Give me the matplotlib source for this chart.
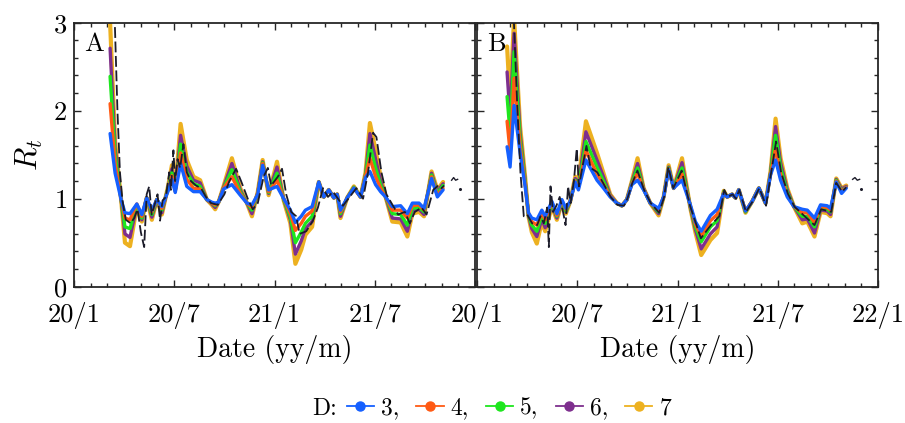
import matplotlib
matplotlib.use("Agg")
import matplotlib.pyplot as plt
from matplotlib.ticker import MultipleLocator, FixedLocator, FixedFormatter
from matplotlib.lines import Line2D

plt.rcParams['mathtext.fontset'] = 'cm'
plt.rcParams['font.family'] = ['cmr10', 'DejaVu Serif']
plt.rcParams['axes.unicode_minus'] = False
plt.rcParams['axes.formatter.use_mathtext'] = True

# x values: months since 2020/1/1
tick_months = [0, 6, 12, 18, 24]
tick_labels_A = ['20/1', '20/7', '21/1', '21/7', '']
tick_labels_B = ['20/1', '20/7', '21/1', '21/7', '22/1']
D_labels = ['3,', '4,', '5,', '6,', '7']
colors = ['#1560ff', '#ff5a14', '#1ee61e', '#7e2f8e', '#edb120']

# ---------------- Panel A ----------------
mA = [2.16, 2.46, 2.82, 3.05, 3.35, 3.76, 4.06, 4.35, 4.66, 4.96, 5.26, 5.66, 5.86, 6.06,
      6.38, 6.75, 7.15, 7.55, 7.95, 8.25, 8.45, 8.65, 8.95, 9.45, 9.95, 10.35, 10.65, 11.0,
      11.29, 11.65, 12.15, 12.55, 12.95, 13.25, 13.6, 13.85, 14.25, 14.65, 14.95, 15.25,
      15.55, 15.75, 15.95, 16.35, 16.75, 17.15, 17.45, 17.71, 18.05, 18.35, 18.65, 19.05,
      19.55, 19.95, 20.25, 20.65, 20.95, 21.4, 21.75, 22.09]
A_D3 = [1.74, 1.29, 0.99, 0.84, 0.83, 0.94, 0.82, 1.01, 0.87, 0.99, 0.91, 1.10, 1.22, 1.07,
        1.40, 1.14, 1.08, 1.08, 0.99, 0.96, 0.95, 0.96, 1.11, 1.16, 1.04, 0.95, 0.93, 1.05,
        1.38, 1.10, 1.14, 1.00, 0.87, 0.73, 0.80, 0.87, 0.91, 1.19, 1.02, 1.10,
        1.01, 1.05, 0.87, 1.01, 1.12, 1.02, 1.24, 1.31, 1.16, 1.08, 1.02, 0.91,
        0.92, 0.83, 0.95, 0.95, 0.89, 1.23, 1.02, 1.10]
A_D4 = [2.08, 1.40, 0.99, 0.78, 0.76, 0.94, 0.80, 1.01, 0.85, 0.99, 0.89, 1.12, 1.26, 1.08,
        1.52, 1.22, 1.12, 1.11, 0.99, 0.95, 0.93, 0.96, 1.12, 1.25, 1.06, 0.95, 0.90, 1.06,
        1.40, 1.08, 1.21, 1.00, 0.83, 0.64, 0.72, 0.80, 0.86, 1.19, 1.02, 1.10,
        1.01, 1.05, 0.85, 1.01, 1.12, 1.02, 1.26, 1.46, 1.25, 1.12, 1.02, 0.87,
        0.87, 0.78, 0.92, 0.93, 0.87, 1.25, 1.04, 1.12]
A_D5 = [2.39, 1.50, 0.99, 0.68, 0.66, 0.93, 0.78, 1.01, 0.82, 0.99, 0.87, 1.14, 1.30, 1.09,
        1.62, 1.30, 1.17, 1.14, 0.99, 0.95, 0.92, 0.96, 1.12, 1.33, 1.08, 0.95, 0.87, 1.06,
        1.41, 1.07, 1.29, 0.99, 0.79, 0.50, 0.62, 0.72, 0.80, 1.19, 1.02, 1.10,
        1.01, 1.05, 0.83, 1.01, 1.13, 1.02, 1.27, 1.61, 1.35, 1.16, 1.02, 0.83,
        0.82, 0.70, 0.89, 0.90, 0.85, 1.27, 1.06, 1.15]
A_D6 = [2.71, 1.58, 0.99, 0.60, 0.56, 0.92, 0.76, 1.01, 0.79, 0.99, 0.84, 1.15, 1.34, 1.10,
        1.72, 1.37, 1.21, 1.18, 0.99, 0.94, 0.90, 0.96, 1.13, 1.40, 1.10, 0.95, 0.83, 1.07,
        1.42, 1.06, 1.36, 0.99, 0.76, 0.37, 0.52, 0.66, 0.74, 1.19, 1.02, 1.10,
        1.01, 1.05, 0.80, 1.01, 1.13, 1.02, 1.28, 1.74, 1.45, 1.20, 1.02, 0.78,
        0.77, 0.63, 0.86, 0.88, 0.82, 1.29, 1.08, 1.17]
A_D7 = [3.00, 1.65, 0.99, 0.50, 0.46, 0.91, 0.74, 1.01, 0.76, 0.99, 0.82, 1.17, 1.38, 1.11,
        1.85, 1.44, 1.25, 1.21, 0.99, 0.93, 0.88, 0.96, 1.14, 1.46, 1.12, 0.95, 0.80, 1.08,
        1.44, 1.04, 1.42, 0.98, 0.72, 0.26, 0.42, 0.59, 0.68, 1.19, 1.02, 1.10,
        1.01, 1.05, 0.78, 1.01, 1.14, 1.02, 1.30, 1.86, 1.55, 1.25, 1.02, 0.74,
        0.73, 0.57, 0.83, 0.85, 0.80, 1.31, 1.10, 1.19]

mA_obs = [2.45, 2.6, 2.75, 2.9, 3.1, 3.4, 3.6, 3.8, 4.0, 4.2, 4.35, 4.5, 4.65, 4.85, 5.0, 5.15,
          5.3, 5.5, 5.7, 5.8, 5.95, 6.05, 6.2, 6.35, 6.55, 6.75, 7.0, 7.3, 7.6, 7.9, 8.2, 8.6,
          9.0, 9.3, 9.7, 10.0, 10.4, 10.7, 11.0, 11.35, 11.6, 11.8, 12.2, 12.45, 12.7, 13.0,
          13.3, 13.5, 13.9, 14.3, 14.6, 14.9, 15.2, 15.5, 15.8, 16.1, 16.5, 16.9, 17.3, 17.6,
          17.9, 18.1, 18.4, 18.7, 19.0, 19.4, 19.8, 20.1, 20.4, 20.8, 21.1, 21.5, 21.8, 22.0,
          22.15]
A_obs = [2.95, 2.0, 1.3, 0.98, 0.76, 0.72, 0.78, 0.88, 0.62, 0.45, 1.05, 1.14, 0.82, 0.95,
         1.05, 0.75, 0.98, 1.02, 1.30, 1.10, 1.55, 1.20, 1.45, 1.35, 1.62, 1.30, 1.20, 1.15,
         1.12, 1.02, 0.95, 0.93, 1.05, 1.20, 1.34, 1.20, 1.0, 0.88, 0.95, 1.25, 1.35, 1.15,
         1.25, 1.34, 1.05, 0.85, 0.80, 0.60, 0.63, 0.75, 0.90, 1.12, 1.02, 1.08, 1.0, 0.92,
         1.02, 1.12, 1.0, 1.30, 1.75, 1.70, 1.30, 1.05, 0.95, 0.82, 0.85, 0.72, 0.85, 0.90,
         0.82, 1.10, 1.15, 1.12, 1.15]
mA_tail = [22.6, 22.72, 22.84, 22.96]
A_tail = [1.21, 1.24, 1.21, 1.22]
mA_dot = [23.08]
A_dot = [1.11]

# ---------------- Panel B ----------------
mB = [1.80, 1.98, 2.22, 2.58, 2.88, 3.08, 3.28, 3.58, 3.88, 4.08, 4.48, 4.78, 5.08, 5.32,
      5.58, 5.88, 6.07, 6.52, 7.18, 7.57, 7.97, 8.37, 8.67, 8.97, 9.27, 9.61, 9.97, 10.37,
      10.87, 11.17, 11.47, 11.77, 12.27, 12.77, 13.07, 13.42, 13.97, 14.37, 14.77, 14.97,
      15.27, 15.47, 15.67, 16.07, 16.47, 16.87, 17.27, 17.57, 17.87, 18.17, 18.57, 18.97,
      19.47, 19.77, 20.2, 20.56, 20.96, 21.16, 21.5, 21.82, 22.1]
B_D3 = [1.59, 1.36, 2.06, 1.52, 1.14, 0.84, 0.78, 0.76, 0.87, 0.80, 0.97, 0.83, 0.99, 0.89,
        0.97, 1.19, 1.10, 1.44, 1.21, 1.12, 1.02, 0.95, 0.92, 0.99, 1.16, 1.21, 1.10, 0.95,
        0.89, 1.02, 1.33, 1.12, 1.21, 0.93, 0.74, 0.63, 0.81, 0.88, 1.06, 1.02,
        1.05, 1.01, 1.10, 0.86, 0.97, 1.12, 0.95, 1.27, 1.44, 1.21, 1.02, 0.91,
        0.88, 0.87, 0.78, 0.93, 0.92, 0.89, 1.19, 1.06, 1.12]
B_D4 = [1.88, 1.53, 2.37, 1.60, 1.17, 0.83, 0.74, 0.70, 0.84, 0.76, 0.96, 0.81, 0.98, 0.88,
        0.97, 1.20, 1.12, 1.55, 1.28, 1.16, 1.03, 0.95, 0.92, 0.99, 1.17, 1.29, 1.11, 0.95,
        0.87, 1.02, 1.34, 1.12, 1.28, 0.92, 0.71, 0.57, 0.75, 0.82, 1.07, 1.02,
        1.05, 1.01, 1.10, 0.86, 0.97, 1.12, 0.95, 1.28, 1.57, 1.28, 1.04, 0.91,
        0.84, 0.84, 0.73, 0.91, 0.90, 0.87, 1.20, 1.08, 1.13]
B_D5 = [2.16, 1.74, 2.67, 1.68, 1.20, 0.82, 0.70, 0.63, 0.81, 0.72, 0.94, 0.80, 0.97, 0.86,
        0.97, 1.21, 1.14, 1.65, 1.36, 1.20, 1.03, 0.95, 0.92, 0.99, 1.18, 1.35, 1.11, 0.95,
        0.85, 1.02, 1.35, 1.12, 1.35, 0.91, 0.68, 0.51, 0.68, 0.75, 1.08, 1.02,
        1.05, 1.01, 1.10, 0.85, 0.97, 1.12, 0.95, 1.29, 1.72, 1.35, 1.07, 0.91,
        0.80, 0.80, 0.68, 0.89, 0.88, 0.85, 1.21, 1.09, 1.13]
B_D6 = [2.44, 1.93, 2.88, 1.75, 1.22, 0.81, 0.66, 0.57, 0.77, 0.67, 0.93, 0.78, 0.96, 0.85,
        0.97, 1.23, 1.16, 1.76, 1.44, 1.25, 1.04, 0.95, 0.92, 0.99, 1.19, 1.40, 1.12, 0.95,
        0.83, 1.02, 1.36, 1.12, 1.41, 0.90, 0.65, 0.43, 0.60, 0.68, 1.08, 1.02,
        1.05, 1.01, 1.10, 0.85, 0.97, 1.12, 0.95, 1.30, 1.82, 1.41, 1.10, 0.91,
        0.76, 0.77, 0.61, 0.87, 0.86, 0.82, 1.22, 1.11, 1.14]
B_D7 = [2.73, 2.12, 3.05, 1.82, 1.25, 0.80, 0.62, 0.49, 0.74, 0.63, 0.91, 0.76, 0.95, 0.83,
        0.97, 1.25, 1.19, 1.88, 1.52, 1.29, 1.05, 0.95, 0.92, 0.99, 1.20, 1.46, 1.12, 0.95,
        0.81, 1.02, 1.38, 1.12, 1.46, 0.89, 0.62, 0.36, 0.53, 0.61, 1.09, 1.02,
        1.05, 1.01, 1.10, 0.84, 0.97, 1.12, 0.95, 1.31, 1.91, 1.46, 1.12, 0.91,
        0.72, 0.74, 0.57, 0.85, 0.835, 0.80, 1.23, 1.12, 1.15]

mB_obs = [2.2, 2.4, 2.6, 2.8, 3.0, 3.3, 3.6, 3.8, 4.0, 4.2, 4.3, 4.4, 4.55, 4.75, 4.95, 5.15,
          5.3, 5.45, 5.6, 5.8, 5.97, 6.1, 6.3, 6.55, 6.8, 7.2, 7.6, 8.0, 8.4, 8.8, 9.0, 9.3,
          9.6, 10.0, 10.4, 10.9, 11.2, 11.45, 11.75, 12.25, 12.75, 13.4, 14.0, 14.5, 14.8,
          15.0, 15.3, 15.5, 15.7, 16.1, 16.5, 16.9, 17.3, 17.6, 17.9, 18.2, 18.6, 19.0, 19.5,
          20.2, 20.6, 21.2, 21.5, 21.85, 22.1]
B_obs = [3.05, 2.1, 1.3, 0.80, 0.82, 0.72, 0.70, 0.80, 0.72, 0.90, 0.45, 1.14, 0.85, 0.92,
         1.02, 0.85, 0.70, 1.14, 0.95, 1.20, 1.57, 1.14, 1.35, 1.60, 1.35, 1.30, 1.16, 1.02,
         0.93, 0.92, 1.0, 1.18, 1.32, 1.10, 0.95, 0.84, 1.02, 1.36, 1.12, 1.32, 0.92, 0.55,
         0.70, 0.80, 1.10, 1.02, 1.05, 1.00, 1.10, 0.85, 0.97, 1.12, 0.92, 1.29, 1.65, 1.30,
         1.06, 0.91, 0.82, 0.70, 0.88, 0.85, 1.18, 1.08, 1.13]
mB_tail = [22.48, 22.62, 22.76, 22.9]
B_tail = [1.22, 1.24, 1.21, 1.22]
mB_dot = [23.0]
B_dot = [1.11]

panels = [
    dict(label='A', m=mA, series=[A_D3, A_D4, A_D5, A_D6, A_D7], m_obs=mA_obs, obs=A_obs,
         m_tail=mA_tail, tail=A_tail, m_dot=mA_dot, dot=A_dot, ticklabels=tick_labels_A),
    dict(label='B', m=mB, series=[B_D3, B_D4, B_D5, B_D6, B_D7], m_obs=mB_obs, obs=B_obs,
         m_tail=mB_tail, tail=B_tail, m_dot=mB_dot, dot=B_dot, ticklabels=tick_labels_B),
]

W, H = 905, 423
fig = plt.figure(figsize=(W / 100, H / 100), dpi=100)
axes = [fig.add_axes([74 / W, 136.3 / H, 401 / W, 264 / H]),
        fig.add_axes([477 / W, 136.3 / H, 401 / W, 264 / H])]

lws = [2.4, 2.4, 2.4, 2.4, 3.0]
for ax, p in zip(axes, panels):
    for i in reversed(range(5)):
        ax.plot(p['m'], p['series'][i], color=colors[i], lw=lws[i], solid_joinstyle='round',
                solid_capstyle='round', zorder=2 + (5 - i) * 0.1)
    ax.plot(p['m_obs'], p['obs'], color='#1c1c2a', lw=1.3, dashes=(6, 2), zorder=4)
    ax.plot(p['m_tail'], p['tail'], color='#1c1c2a', lw=1.0, zorder=4)
    ax.plot(p['m_dot'], p['dot'], 'o', color='#1c1c2a', ms=1.2, zorder=4)
    ax.set_xlim(0, 24)
    ax.set_ylim(0, 3)
    ax.xaxis.set_major_locator(FixedLocator(tick_months))
    ax.xaxis.set_major_formatter(FixedFormatter(p['ticklabels']))
    ax.xaxis.set_minor_locator(MultipleLocator(1))
    ax.yaxis.set_major_locator(MultipleLocator(1))
    ax.yaxis.set_minor_locator(MultipleLocator(0.2))
    ax.tick_params(which='both', direction='in', top=True, right=True, width=1.0,
                   color='#262626', labelsize=19)
    ax.tick_params(axis='y', pad=5)
    ax.tick_params(axis='x', pad=11)
    ax.tick_params(which='major', length=5)
    ax.tick_params(which='minor', length=3)
    for s in ax.spines.values():
        s.set_linewidth(1.3)
        s.set_color('#262626')
    ax.text(0.025, 0.965, p['label'], transform=ax.transAxes, ha='left', va='top',
            fontsize=19)
    ax.set_xlabel('Date (yy/m)', fontsize=20, labelpad=4)

axes[1].tick_params(labelleft=False)
axes[0].set_ylabel('$R_t$', fontsize=22, labelpad=6)

handles = [Line2D([0], [0], color=c, lw=1.3, marker='o', ms=6.5) for c in colors]
fig.text(312 / W, 1 - 409 / H, 'D:', fontsize=17, ha='left', va='center')
fig.legend(handles, D_labels, loc='center', bbox_to_anchor=(509 / W, 1 - 408 / H),
           ncol=5, frameon=False, fontsize=17, handlelength=1.15, handletextpad=0.3,
           columnspacing=0.72, borderpad=0.0)

fig.savefig('out.png', dpi=100)
